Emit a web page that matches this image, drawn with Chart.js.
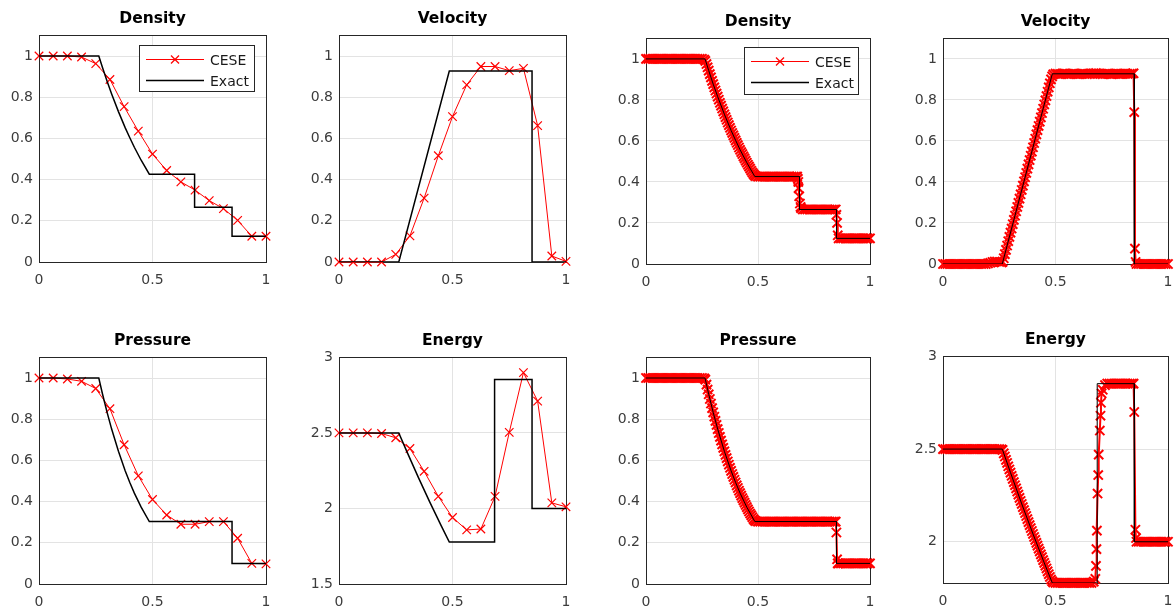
<!DOCTYPE html>
<html>
<head>
<meta charset="utf-8">
<script src="https://cdn.jsdelivr.net/npm/chart.js@4.4.0/dist/chart.umd.min.js"></script>
<style>
  html, body { margin: 0; padding: 0; background: #fff; overflow: hidden; width: 1174px; height: 613px; }
  body { position: relative; font-family: "DejaVu Sans", Verdana, sans-serif; }
  canvas { position: absolute; }
  .title { position: absolute; width: 200px; text-align: center; font-weight: bold; font-size: 15.5px; line-height: 1; color: #000; white-space: nowrap; }
  .legend { position: absolute; box-sizing: border-box; border: 1px solid #262626; background: #fff; }
  .legend svg { position: absolute; left: 0; top: 0; }
  .legend span { position: absolute; font-size: 14px; line-height: 14px; color: #1a1a1a; white-space: nowrap; }
</style>
</head>
<body>
<script>
// ---------- data: coarse run (17 cells) ----------
const xCoarse = [0, 0.0625, 0.125, 0.1875, 0.25, 0.3125, 0.375, 0.4375, 0.5, 0.5625, 0.625, 0.6875, 0.75, 0.8125, 0.875, 0.9375, 1];
const rhoCoarse = [1, 1, 1, 0.995, 0.963, 0.886, 0.754, 0.635, 0.524, 0.444, 0.389, 0.349, 0.298, 0.259, 0.202, 0.125, 0.125];
const uCoarse = [0, 0, 0, 0, 0.037, 0.127, 0.31, 0.516, 0.706, 0.86, 0.949, 0.949, 0.929, 0.94, 0.662, 0.029, 0.003];
const pCoarse = [1, 1, 0.995, 0.984, 0.949, 0.851, 0.676, 0.525, 0.41, 0.335, 0.29, 0.29, 0.303, 0.303, 0.222, 0.1, 0.098];
const eCoarse = [2.5, 2.5, 2.5, 2.496, 2.468, 2.397, 2.246, 2.08, 1.94, 1.858, 1.864, 2.08, 2.504, 2.899, 2.711, 2.037, 2.011];

// ---------- data: fine run (sampled every 0.01, extra cells in the fan and at the jumps) ----------
const xFine = Array.from({ length: 101 }, (_, i) => i / 100);
const xFineFan = [0.265, 0.275, 0.285, 0.295, 0.305, 0.315, 0.325, 0.335, 0.345, 0.355, 0.365, 0.375,
  0.385, 0.395, 0.405, 0.415, 0.425, 0.435, 0.445, 0.455, 0.465, 0.475, 0.485];

const rhoFine = [
  1, 1, 1, 1, 1, 1, 1, 1, 1, 1,
  1, 1, 1, 1, 1, 1, 1, 1, 1, 1,
  1, 1, 1, 1, 1, 1, 0.997, 0.975, 0.943, 0.910,
  0.877, 0.846, 0.816, 0.786, 0.758, 0.730, 0.703, 0.677, 0.651, 0.627,
  0.603, 0.580, 0.557, 0.536, 0.515, 0.494, 0.475, 0.455, 0.438, 0.428,
  0.426, 0.426, 0.426, 0.426, 0.426, 0.426, 0.426, 0.426, 0.426, 0.426,
  0.426, 0.426, 0.426, 0.426, 0.426, 0.426, 0.426, 0.426, 0.40, 0.278,
  0.266, 0.266, 0.266, 0.266, 0.266, 0.266, 0.266, 0.266, 0.266, 0.266,
  0.266, 0.266, 0.266, 0.266, 0.266, 0.24, 0.125, 0.125, 0.125, 0.125,
  0.125, 0.125, 0.125, 0.125, 0.125, 0.125, 0.125, 0.125, 0.125, 0.125,
  0.125
];
const rhoFineFan = [0.99, 0.959, 0.926, 0.893, 0.861, 0.831, 0.801, 0.772, 0.744, 0.716, 0.690, 0.664,
  0.639, 0.615, 0.591, 0.568, 0.546, 0.525, 0.504, 0.484, 0.465, 0.446, 0.432];
const rhoFineJumpX = [0.675, 0.678, 0.681, 0.684, 0.687, 0.692, 0.847, 0.853, 0.856];
const rhoFineJumpY = [0.426, 0.415, 0.37, 0.33, 0.295, 0.272, 0.266, 0.2, 0.14];

const uFine = [
  0, 0, 0, 0, 0, 0, 0, 0, 0, 0,
  0, 0, 0, 0, 0, 0, 0, 0, 0, 0,
  0.003, 0.006, 0.01, 0.012, 0.012, 0.01, 0.008, 0.028, 0.069, 0.111,
  0.153, 0.194, 0.236, 0.278, 0.319, 0.361, 0.403, 0.444, 0.486, 0.528,
  0.569, 0.611, 0.653, 0.694, 0.736, 0.778, 0.819, 0.861, 0.900, 0.925,
  0.928, 0.927, 0.926, 0.928, 0.929, 0.927, 0.926, 0.927, 0.928, 0.927,
  0.926, 0.927, 0.928, 0.927, 0.926, 0.927, 0.929, 0.93, 0.931, 0.928,
  0.927, 0.926, 0.927, 0.928, 0.927, 0.926, 0.927, 0.928, 0.927, 0.927,
  0.927, 0.928, 0.927, 0.927, 0.928, 0.74, 0, 0, 0, 0,
  0, 0, 0, 0, 0, 0, 0, 0, 0, 0,
  0
];
const uFineFan = [0.01, 0.048, 0.090, 0.132, 0.173, 0.215, 0.257, 0.298, 0.340, 0.382, 0.423, 0.465,
  0.507, 0.548, 0.590, 0.632, 0.673, 0.715, 0.757, 0.798, 0.840, 0.881, 0.915];
const uFineJumpX = [0.847, 0.853, 0.856];
const uFineJumpY = [0.93, 0.075, 0.01];

const pFine = [
  1, 1, 1, 1, 1, 1, 1, 1, 1, 1,
  1, 1, 1, 1, 1, 1, 1, 1, 1, 1,
  1, 1, 1, 1, 1, 1, 0.998, 0.968, 0.921, 0.876,
  0.833, 0.792, 0.752, 0.714, 0.678, 0.644, 0.611, 0.579, 0.549, 0.520,
  0.493, 0.466, 0.441, 0.417, 0.395, 0.373, 0.352, 0.333, 0.315, 0.305,
  0.303, 0.303, 0.303, 0.303, 0.303, 0.303, 0.303, 0.303, 0.303, 0.303,
  0.303, 0.303, 0.303, 0.303, 0.303, 0.303, 0.303, 0.303, 0.303, 0.303,
  0.303, 0.303, 0.303, 0.303, 0.303, 0.303, 0.303, 0.303, 0.303, 0.303,
  0.303, 0.303, 0.303, 0.303, 0.303, 0.25, 0.1, 0.1, 0.1, 0.1,
  0.1, 0.1, 0.1, 0.1, 0.1, 0.1, 0.1, 0.1, 0.1, 0.1,
  0.1
];
const pFineFan = [0.992, 0.944, 0.898, 0.854, 0.812, 0.772, 0.733, 0.696, 0.661, 0.627, 0.595, 0.564,
  0.534, 0.506, 0.479, 0.453, 0.429, 0.406, 0.384, 0.362, 0.342, 0.324, 0.309];
const pFineJumpX = [0.847, 0.853, 0.856];
const pFineJumpY = [0.303, 0.12, 0.1];

const eFine = [
  2.5, 2.5, 2.5, 2.5, 2.5, 2.5, 2.5, 2.5, 2.5, 2.5,
  2.5, 2.5, 2.5, 2.5, 2.5, 2.5, 2.5, 2.5, 2.5, 2.5,
  2.5, 2.5, 2.5, 2.5, 2.5, 2.5, 2.499, 2.477, 2.442, 2.407,
  2.373, 2.339, 2.305, 2.271, 2.237, 2.204, 2.171, 2.139, 2.106, 2.074,
  2.042, 2.010, 1.979, 1.948, 1.917, 1.886, 1.856, 1.825, 1.796, 1.780,
  1.778, 1.778, 1.778, 1.778, 1.778, 1.778, 1.778, 1.778, 1.778, 1.778,
  1.778, 1.778, 1.778, 1.778, 1.778, 1.778, 1.778, 1.785, 1.87, 2.36,
  2.68, 2.82, 2.845, 2.853, 2.853, 2.853, 2.853, 2.853, 2.853, 2.853,
  2.853, 2.853, 2.853, 2.853, 2.853, 2.70, 2.0, 2.0, 2.0, 2.0,
  2.0, 2.0, 2.0, 2.0, 2.0, 2.0, 2.0, 2.0, 2.0, 2.0,
  2.0
];
const eFineFan = [2.495, 2.46, 2.425, 2.39, 2.356, 2.322, 2.288, 2.254, 2.22, 2.187, 2.155, 2.122,
  2.09, 2.058, 2.026, 1.994, 1.963, 1.932, 1.901, 1.871, 1.84, 1.81, 1.787];
const eFineJumpX = [0.677, 0.682, 0.684, 0.687, 0.692, 0.697, 0.702, 0.705, 0.847, 0.855, 0.858];
const eFineJumpY = [1.80, 1.96, 2.06, 2.26, 2.47, 2.60, 2.75, 2.80, 2.853, 2.065, 2.02];

// ---------- data: exact solution ----------
const rhoExactX = [0, 0.2634, 0.28, 0.30, 0.32, 0.35, 0.38, 0.40, 0.42, 0.45, 0.4859, 0.6854, 0.6854, 0.8504, 0.8504, 1];
const rhoExactY = [1, 1, 0.943, 0.877, 0.816, 0.730, 0.651, 0.603, 0.557, 0.494, 0.4263, 0.4263, 0.2656, 0.2656, 0.125, 0.125];
const uExactX = [0, 0.2634, 0.4859, 0.8504, 0.8504, 1];
const uExactY = [0, 0, 0.9274, 0.9274, 0, 0];
const pExactX = [0, 0.2634, 0.28, 0.30, 0.32, 0.35, 0.38, 0.40, 0.42, 0.45, 0.4859, 0.8504, 0.8504, 1];
const pExactY = [1, 1, 0.921, 0.833, 0.752, 0.644, 0.549, 0.493, 0.441, 0.373, 0.3031, 0.3031, 0.1, 0.1];
const eExactX = [0, 0.2634, 0.30, 0.35, 0.40, 0.45, 0.4859, 0.6854, 0.6854, 0.8504, 0.8504, 1];
const eExactY = [2.5, 2.5, 2.373, 2.204, 2.042, 1.886, 1.7775, 1.7775, 2.853, 2.853, 2.0, 2.0];

// ---------- ticks & labels ----------
const xTicks = [0, 0.5, 1];
const yTicksUnit = [0, 0.2, 0.4, 0.6, 0.8, 1];
const yTicksEnergy = [1.5, 2, 2.5, 3];
const yTicksEnergyFine = [2, 2.5, 3];
const legendLabels = ['CESE', 'Exact'];

// pairs of (xs, ys) arrays -> sorted {x, y} list
function toPoints(...pairs) {
  const pts = [];
  for (let k = 0; k < pairs.length; k += 2) {
    const xs = pairs[k], ys = pairs[k + 1];
    xs.forEach((x, i) => pts.push({ x: x, y: ys[i] }));
  }
  return pts.sort((a, b) => a.x - b.x);
}

// axes frame on all four sides, like the matlab box
const boxPlugin = {
  id: 'axesBox',
  beforeDatasetsDraw(chart) {
    const a = chart.chartArea, ctx = chart.ctx;
    ctx.save();
    ctx.strokeStyle = '#262626';
    ctx.lineWidth = 1;
    ctx.strokeRect(Math.round(a.left) + 0.5, Math.round(a.top) + 0.5,
      Math.round(a.right) - Math.round(a.left), Math.round(a.bottom) - Math.round(a.top));
    ctx.restore();
  }
};

const tickFont = { family: '"DejaVu Sans", Verdana, sans-serif', size: 14 };

const panels = [
  { title: 'Density',  left: 39,  top: 31,  right: 266,  bottom: 262, ymin: 0, ymax: 1.1, yTicks: yTicksUnit,
    cese: toPoints(xCoarse, rhoCoarse), ex: rhoExactX, ey: rhoExactY, fine: false,
    legend: { left: 139, top: 45, width: 116, height: 47 } },
  { title: 'Velocity', left: 339, top: 31,  right: 566,  bottom: 262, ymin: 0, ymax: 1.1, yTicks: yTicksUnit,
    cese: toPoints(xCoarse, uCoarse), ex: uExactX, ey: uExactY, fine: false },
  { title: 'Density',  left: 646, top: 34,  right: 870,  bottom: 264, ymin: 0, ymax: 1.1, yTicks: yTicksUnit,
    cese: toPoints(xFine, rhoFine, xFineFan, rhoFineFan, rhoFineJumpX, rhoFineJumpY),
    ex: rhoExactX, ey: rhoExactY, fine: true,
    legend: { left: 744, top: 47, width: 115, height: 48 } },
  { title: 'Velocity', left: 943, top: 34,  right: 1168, bottom: 264, ymin: 0, ymax: 1.1, yTicks: yTicksUnit,
    cese: toPoints(xFine, uFine, xFineFan, uFineFan, uFineJumpX, uFineJumpY),
    ex: uExactX, ey: uExactY, fine: true },
  { title: 'Pressure', left: 39,  top: 353, right: 266,  bottom: 584, ymin: 0, ymax: 1.1, yTicks: yTicksUnit,
    cese: toPoints(xCoarse, pCoarse), ex: pExactX, ey: pExactY, fine: false },
  { title: 'Energy',   left: 339, top: 353, right: 566,  bottom: 584, ymin: 1.5, ymax: 3, yTicks: yTicksEnergy,
    cese: toPoints(xCoarse, eCoarse), ex: eExactX, ey: eExactY, fine: false },
  { title: 'Pressure', left: 646, top: 353, right: 870,  bottom: 584, ymin: 0, ymax: 1.1, yTicks: yTicksUnit,
    cese: toPoints(xFine, pFine, xFineFan, pFineFan, pFineJumpX, pFineJumpY),
    ex: pExactX, ey: pExactY, fine: true },
  { title: 'Energy',   left: 943, top: 352, right: 1168, bottom: 583, ymin: 1.7775, ymax: 3, yTicks: yTicksEnergyFine,
    cese: toPoints(xFine, eFine, xFineFan, eFineFan, eFineJumpX, eFineJumpY),
    ex: eExactX, ey: eExactY, fine: true }
];

function addLegend(box) {
  const div = document.createElement('div');
  div.className = 'legend';
  div.style.left = box.left + 'px';
  div.style.top = box.top + 'px';
  div.style.width = box.width + 'px';
  div.style.height = box.height + 'px';
  const w = box.width - 2, h = box.height - 2;
  const r1 = 13.5, r2 = 34.5;
  div.innerHTML =
    '<svg width="' + w + '" height="' + h + '">' +
    '<line x1="6" y1="' + r1 + '" x2="64" y2="' + r1 + '" stroke="#ff0000" stroke-width="1"/>' +
    '<line x1="31" y1="' + (r1 - 4) + '" x2="39" y2="' + (r1 + 4) + '" stroke="#ff0000" stroke-width="1.2"/>' +
    '<line x1="31" y1="' + (r1 + 4) + '" x2="39" y2="' + (r1 - 4) + '" stroke="#ff0000" stroke-width="1.2"/>' +
    '<line x1="6" y1="' + r2 + '" x2="64" y2="' + r2 + '" stroke="#000" stroke-width="1.3"/>' +
    '</svg>' +
    '<span style="left:70px;top:' + (r1 - 7) + 'px">' + legendLabels[0] + '</span>' +
    '<span style="left:70px;top:' + (r2 - 7) + 'px">' + legendLabels[1] + '</span>';
  document.body.appendChild(div);
}

function makePanel(p) {
  const canvas = document.createElement('canvas');
  const w = p.right - p.left + 60, h = p.bottom - p.top + 40;
  canvas.width = w;
  canvas.height = h;
  canvas.style.left = (p.left - 45) + 'px';
  canvas.style.top = (p.top - 10) + 'px';
  canvas.style.width = w + 'px';
  canvas.style.height = h + 'px';
  document.body.appendChild(canvas);

  new Chart(canvas, {
    type: 'scatter',
    data: {
      datasets: [
        { label: 'Exact', data: toPoints(p.ex, p.ey), showLine: true, borderColor: '#000000',
          borderWidth: p.fine ? 1 : 1.5, pointRadius: 0, pointHoverRadius: 0 },
        { label: 'CESE', data: p.cese, showLine: true, borderColor: '#ff0000', borderWidth: p.fine ? 2 : 1,
          pointStyle: 'crossRot', pointRadius: p.fine ? 6.5 : 6, pointHoverRadius: 6, pointBorderColor: '#ff0000',
          pointBackgroundColor: '#ff0000', pointBorderWidth: p.fine ? 2 : 1.2, clip: false }
      ]
    },
    options: {
      responsive: false,
      animation: false,
      devicePixelRatio: 1,
      layout: { padding: { left: 0, top: 10, right: 15, bottom: 0 } },
      plugins: { legend: { display: false }, tooltip: { enabled: false }, title: { display: false } },
      scales: {
        x: {
          type: 'linear', min: 0, max: 1,
          afterFit: s => { s.height = 30; },
          afterBuildTicks: s => { s.ticks = xTicks.map(v => ({ value: v })); },
          grid: { color: '#e3e3e3', drawTicks: false },
          border: { display: false },
          ticks: { padding: 10, color: '#3c3c3c', font: tickFont, callback: v => String(v) }
        },
        y: {
          type: 'linear', min: p.ymin, max: p.ymax,
          afterFit: s => { s.width = 45; },
          afterBuildTicks: s => { s.ticks = p.yTicks.map(v => ({ value: v })); },
          grid: { color: '#e3e3e3', drawTicks: false },
          border: { display: false },
          ticks: { padding: 6, color: '#3c3c3c', font: tickFont, callback: v => String(v) }
        }
      }
    },
    plugins: [boxPlugin]
  });

  const t = document.createElement('div');
  t.className = 'title';
  t.textContent = p.title;
  t.style.left = ((p.left + p.right) / 2 - 100) + 'px';
  t.style.top = (p.top - 20) + 'px';
  document.body.appendChild(t);

  if (p.legend) addLegend(p.legend);
}

panels.forEach(makePanel);
</script>
</body>
</html>
